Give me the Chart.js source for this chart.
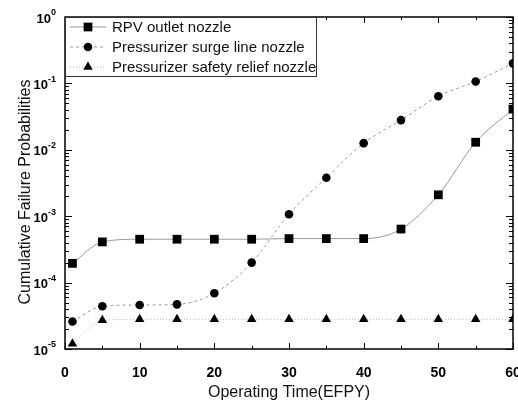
<!DOCTYPE html>
<html>
<head>
<meta charset="utf-8">
<script src="https://cdn.jsdelivr.net/npm/chart.js@4.4.1/dist/chart.umd.min.js"></script>
<style>
  html, body { margin: 0; padding: 0; background: #fff; }
  #wrap { width: 518px; height: 402px; position: relative; }
</style>
</head>
<body>
<div id="wrap"><canvas id="failureChart"></canvas></div>
<script>
// Operating time (EFPY) where each nozzle was evaluated
const years = [1, 5, 10, 15, 20, 25, 30, 35, 40, 45, 50, 55, 60];

// Cumulative failure probabilities
const rpvOutlet    = [1.95e-4, 4.1e-4, 4.5e-4, 4.5e-4, 4.5e-4, 4.5e-4, 4.6e-4, 4.6e-4, 4.6e-4, 6.4e-4, 2.1e-3, 1.3e-2, 4.1e-2];
const surgeLine    = [2.6e-5, 4.4e-5, 4.6e-5, 4.7e-5, 6.9e-5, 2.0e-4, 1.07e-3, 3.8e-3, 1.26e-2, 2.8e-2, 6.4e-2, 0.107, 0.2];
const safetyRelief = [1.2e-5, 2.7e-5, 2.8e-5, 2.8e-5, 2.8e-5, 2.8e-5, 2.8e-5, 2.8e-5, 2.8e-5, 2.8e-5, 2.8e-5, 2.8e-5, 2.8e-5];

const seriesNames = ['RPV outlet nozzle', 'Pressurizer surge line nozzle', 'Pressurizer safety relief nozzle'];
const yTicks = [1e-5, 1e-4, 1e-3, 1e-2, 1e-1, 1];
const xMinorStep = 5;

const FONT = '"Liberation Sans", Arial, sans-serif';

function toPoints(values) {
    return years.map((x, i) => ({ x: x, y: values[i] }));
}

// frame box + inward tick marks + superscript y labels
const frameTicks = {
    id: 'frameTicks',
    afterDatasetsDraw(chart) {
        const { ctx, chartArea: a, scales: { x, y } } = chart;
        ctx.save();
        ctx.strokeStyle = '#000';
        ctx.lineWidth = 1;
        ctx.beginPath();
        // x ticks, top and bottom
        for (let v = x.min; v <= x.max; v += xMinorStep) {
            const px = Math.round(x.getPixelForValue(v)) + 0.5;
            const len = v % 10 === 0 ? 6 : 3;
            ctx.moveTo(px, a.bottom); ctx.lineTo(px, a.bottom - len);
            ctx.moveTo(px, a.top); ctx.lineTo(px, a.top + len);
        }
        // y ticks, left and right (log minors)
        yTicks.forEach(t => {
            for (let m = 1; m < 10; m++) {
                const v = t * m;
                if (v > y.max) break;
                const py = Math.round(y.getPixelForValue(v)) + 0.5;
                const len = m === 1 ? 7 : 4;
                ctx.moveTo(a.left, py); ctx.lineTo(a.left + len, py);
                ctx.moveTo(a.right, py); ctx.lineTo(a.right - len, py);
            }
        });
        ctx.stroke();
        ctx.lineWidth = 1.5;
        ctx.strokeRect(a.left, a.top, a.right - a.left, a.bottom - a.top);

        // y labels as 10 with superscript exponent
        ctx.fillStyle = '#000';
        ctx.textBaseline = 'middle';
        yTicks.forEach(t => {
            const py = y.getPixelForValue(t);
            const exp = String(Math.round(Math.log10(t)));
            ctx.font = 'bold 9px ' + FONT;
            const ew = ctx.measureText(exp).width;
            ctx.textAlign = 'left';
            const right = a.left - 9;
            ctx.fillText(exp, right - ew, py - 4);
            ctx.font = 'bold 13px ' + FONT;
            ctx.textAlign = 'right';
            ctx.fillText('10', right - ew, py + 2);
        });

        // y axis title, a little below the plot centre as in the source
        ctx.save();
        ctx.translate(26, (a.top + a.bottom) / 2 + 9);
        ctx.rotate(-Math.PI / 2);
        ctx.textAlign = 'center';
        ctx.textBaseline = 'middle';
        ctx.fillStyle = '#111';
        ctx.font = '16px ' + FONT;
        ctx.fillText('Cumulative Failure Probabilities', 0, 0);
        ctx.restore();
        ctx.restore();
    }
};

// legend in a bordered box at the top left of the plot
const boxLegend = {
    id: 'boxLegend',
    afterDraw(chart) {
        const { ctx, chartArea: a } = chart;
        const w = 251, h = 59;
        ctx.save();
        ctx.fillStyle = '#fff';
        ctx.fillRect(a.left, a.top, w, h);
        ctx.strokeStyle = '#333';
        ctx.lineWidth = 1;
        ctx.strokeRect(a.left + 0.5, a.top + 0.5, w, h);
        chart.data.datasets.forEach((ds, i) => {
            const cy = a.top + 10 + i * 20;
            ctx.strokeStyle = ds.borderColor;
            ctx.lineWidth = ds.borderWidth;
            ctx.setLineDash(ds.borderDash || []);
            ctx.beginPath();
            ctx.moveTo(a.left + 5, cy);
            ctx.lineTo(a.left + 41, cy);
            ctx.stroke();
            ctx.setLineDash([]);
            ctx.fillStyle = '#000';
            Chart.helpers.drawPoint(ctx, { pointStyle: ds.pointStyle, radius: ds.pointRadius, borderWidth: 0, rotation: 0 }, a.left + 23, cy);
            ctx.fillStyle = '#111';
            ctx.font = '15px ' + FONT;
            ctx.textAlign = 'left';
            ctx.textBaseline = 'middle';
            ctx.fillText(ds.label, a.left + 47, cy + 1);
        });
        ctx.restore();
    }
};

const ctx = document.getElementById('failureChart').getContext('2d');
new Chart(ctx, {
    type: 'line',
    data: {
        datasets: [
            {
                label: seriesNames[0],
                data: toPoints(rpvOutlet),
                borderColor: '#999999',
                borderWidth: 1,
                pointStyle: 'rect',
                pointRadius: 6.2,
                pointBackgroundColor: '#000',
                pointBorderWidth: 0,
                cubicInterpolationMode: 'monotone'
            },
            {
                label: seriesNames[1],
                data: toPoints(surgeLine),
                borderColor: '#9a9a9a',
                borderWidth: 1,
                borderDash: [3, 3],
                pointStyle: 'circle',
                pointRadius: 4.3,
                pointBackgroundColor: '#000',
                pointBorderWidth: 0,
                cubicInterpolationMode: 'monotone'
            },
            {
                label: seriesNames[2],
                data: toPoints(safetyRelief),
                borderColor: '#b4b4b4',
                borderWidth: 1,
                borderDash: [1, 2],
                pointStyle: 'triangle',
                pointRadius: 5.5,
                pointBackgroundColor: '#000',
                pointBorderWidth: 0,
                cubicInterpolationMode: 'monotone'
            }
        ]
    },
    options: {
        responsive: true,
        maintainAspectRatio: false,
        animation: false,
        layout: { autoPadding: false, padding: { top: 17, right: 5, left: 0, bottom: 0 } },
        plugins: {
            legend: { display: false },
            tooltip: { enabled: false }
        },
        scales: {
            x: {
                type: 'linear',
                min: 0,
                max: 60,
                grid: { display: false, drawTicks: false },
                border: { display: false },
                ticks: {
                    stepSize: 10,
                    maxRotation: 0,
                    padding: 16,
                    color: '#000',
                    font: { family: FONT, size: 14, weight: 'bold' }
                },
                title: {
                    display: true,
                    text: 'Operating Time(EFPY)',
                    color: '#111',
                    font: { family: FONT, size: 16 },
                    padding: { top: 0, bottom: 0 }
                },
                afterFit(scale) {
                    scale.height = 53;
                    scale.paddingLeft = 0;
                    scale.paddingRight = 0;
                }
            },
            y: {
                type: 'logarithmic',
                min: 1e-5,
                max: 1,
                grid: { display: false, drawTicks: false },
                border: { display: false },
                ticks: { display: false },
                afterFit(scale) { scale.width = 65; }
            }
        }
    },
    plugins: [frameTicks, boxLegend]
});
</script>
</body>
</html>
